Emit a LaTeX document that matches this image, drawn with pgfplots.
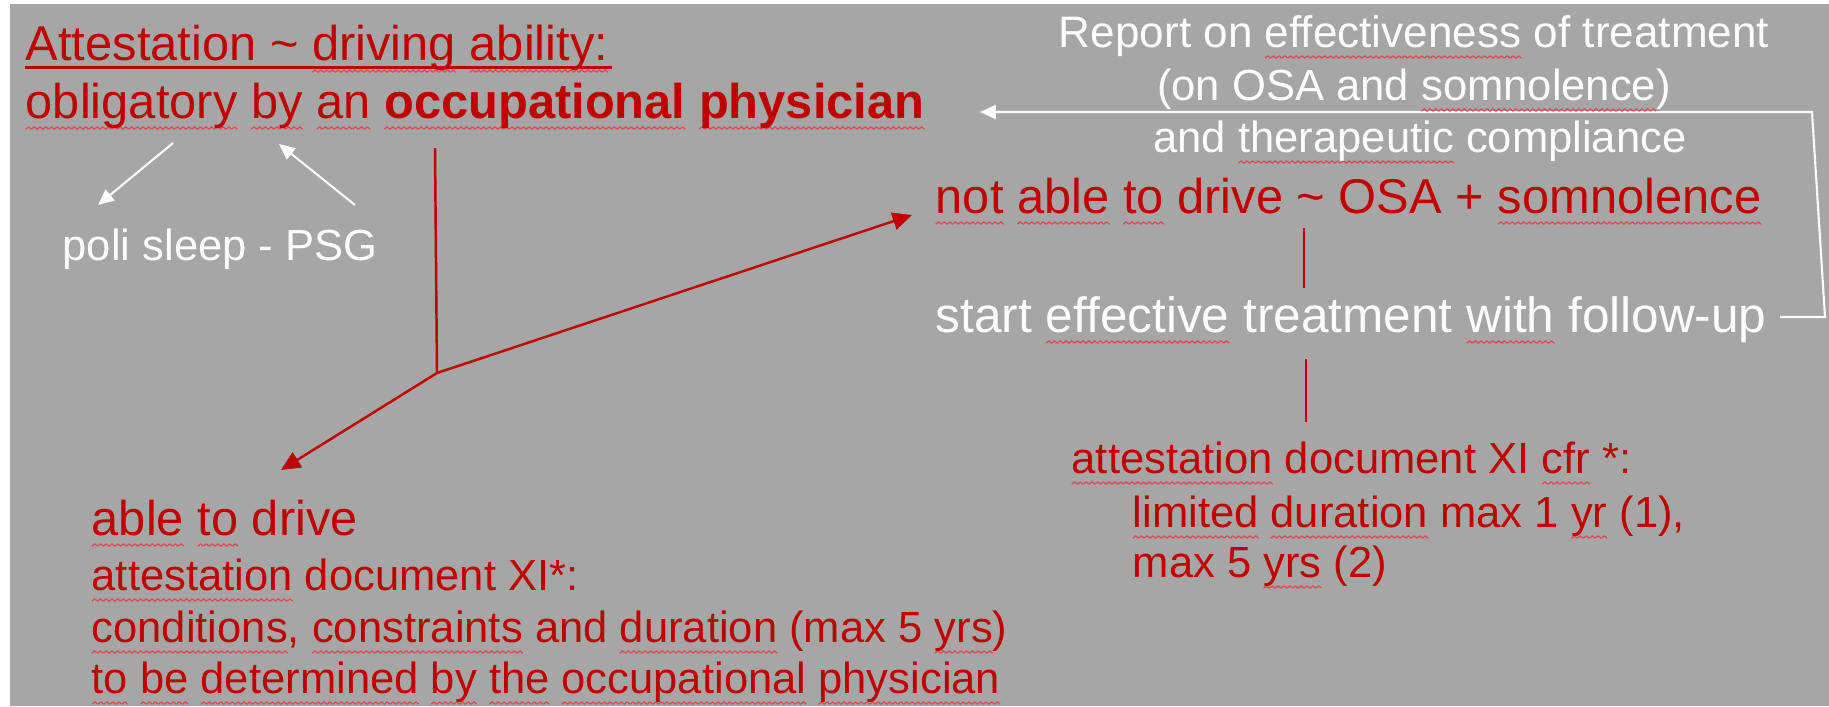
\documentclass[border=0pt]{standalone}
\usepackage{pgfplots}
\pgfplotsset{compat=1.18}
\usetikzlibrary{arrows.meta}
\usepackage{fontspec}
\setmainfont{Liberation Sans}
\definecolor{bg}{RGB}{166,166,166}
\definecolor{dred}{RGB}{192,0,0}
\definecolor{wavy}{RGB}{228,70,80}
\definecolor{wht}{RGB}{252,252,252}
\newsavebox\wavebox
\newsavebox\wvtmp
\newcommand\wv[1]{\sbox\wvtmp{#1}\rlap{\lower3.2pt\hbox to \wd\wvtmp{\xleaders\copy\wavebox\hfill}}\usebox\wvtmp}
\newcommand\wvl[1]{\sbox\wvtmp{#1}\rlap{\lower3.5pt\hbox to \wd\wvtmp{\xleaders\copy\wavebox\hfill}}\usebox\wvtmp}
\newcommand\fbig{\fontsize{13.9pt}{16pt}\selectfont}
\newcommand\fmid{\fontsize{14.1pt}{16pt}\selectfont}
\newcommand\fsm{\fontsize{12.4pt}{15pt}\selectfont}
\newcommand\fsr{\fontsize{12.55pt}{15pt}\selectfont}
\begin{document}
\sbox\wavebox{\tikz{\path[use as bounding box] (0,0) rectangle (1.6pt,0.7pt); \draw[wavy, line width=0.35pt, line join=round] (0,0) -- (0.8pt,0.7pt) -- (1.6pt,0);}}%
\begin{tikzpicture}
\begin{axis}[
  width=18.29cm, height=7.06cm, scale only axis,
  xmin=0, xmax=1829, ymin=0, ymax=706, y dir=reverse,
  axis lines=none, ticks=none, clip=false,
]
% page and background
\addplot[fill=white, draw=none] coordinates {(0,0) (1829,0) (1829,706) (0,706)} -- cycle;
\addplot[fill=bg, draw=none] coordinates {(10,4) (1829,4) (1829,706) (10,706)} -- cycle;
% white arrows to/from poli sleep
\addplot[draw=wht, line width=0.6pt, -{Triangle[length=4.5pt,width=4pt]}] coordinates {(173,143) (98,205)};
\addplot[draw=wht, line width=0.6pt, -{Triangle[length=4.5pt,width=4pt]}] coordinates {(355,205) (279,144)};
% red lines from occupational physician
\addplot[draw=dred, line width=0.7pt] coordinates {(435,148) (437,373)};
\addplot[draw=dred, line width=0.7pt, -{Triangle[length=5.5pt,width=5pt]}] coordinates {(437,373) (281,470)};
\addplot[draw=dred, line width=0.7pt, -{Triangle[length=5.5pt,width=5pt]}] coordinates {(437,373) (912,215)};
% right column connectors
\addplot[draw=dred, line width=0.7pt] coordinates {(1304,228) (1304,288)};
\addplot[draw=dred, line width=0.7pt] coordinates {(1306,359) (1306,422)};
% feedback loop
\addplot[draw=wht, line width=0.6pt, -{Triangle[length=4.5pt,width=4pt]}] coordinates {(1780,317) (1825,317) (1812,112) (980,112)};

% texts
\node[anchor=base west, inner sep=0pt, text=dred, font=\fbig] at (axis cs:25,60) {Attestation \textasciitilde{} \wvl{driving} \wvl{ability:}};
% thick underline of the title
\addplot[draw=dred, line width=0.85pt] coordinates {(25,67) (612,67)};
\node[anchor=base west, inner sep=0pt, text=dred, font=\fbig] at (axis cs:25,118) {\wv{obligatory} \wv{by} \wv{an} {\bfseries\wv{occupational} \wv{physician}}};
\node[anchor=base west, inner sep=0pt, text=wht, font=\fsm] at (axis cs:62,260) {poli sleep - PSG};

\node[anchor=base, inner sep=0pt, text=wht, font=\fsr] at (axis cs:1414,47) {Report on \wv{effectiveness} of treatment};
\node[anchor=base, inner sep=0pt, text=wht, font=\fsm] at (axis cs:1414,100) {(on OSA and \wv{somnolence})};
\node[anchor=base, inner sep=0pt, text=wht, font=\fsm] at (axis cs:1420,152) {and \wv{therapeutic} compliance};

\node[anchor=base west, inner sep=0pt, text=dred, font=\fbig] at (axis cs:935,213) {\wv{not} \wv{able} \wv{to} drive \textasciitilde{} OSA + \wv{somnolence}};
\node[anchor=base west, inner sep=0pt, text=wht, font=\fmid] at (axis cs:935,332) {start \wv{effective} treatment \wv{with} follow-up};

\node[anchor=base west, inner sep=0pt, text=dred, font=\fsm] at (axis cs:1071,473) {\wv{attestation} document XI \wv{cfr} *:};
\node[anchor=base west, inner sep=0pt, text=dred, font=\fsm] at (axis cs:1132,527) {\wv{limited} \wv{duration} max 1 \wv{yr} (1),};
\node[anchor=base west, inner sep=0pt, text=dred, font=\fsm] at (axis cs:1132,577) {max 5 \wv{yrs} (2)};

\node[anchor=base west, inner sep=0pt, text=dred, font=\fbig] at (axis cs:91,535) {\wv{able} \wv{to} drive};
\node[anchor=base west, inner sep=0pt, text=dred, font=\fsm] at (axis cs:91,590) {\wv{attestation} document XI*:};
\node[anchor=base west, inner sep=0pt, text=dred, font=\fsm] at (axis cs:91,642) {\wv{conditions}, \wv{constraints} and \wv{duration} (max 5 \wv{yrs})};
\node[anchor=base west, inner sep=0pt, text=dred, font=\fsm] at (axis cs:91,693) {\wv{to} \wv{be} \wv{determined} \wv{by} \wv{the} \wv{occupational} \wv{physician}};
\end{axis}
\end{tikzpicture}
\end{document}
